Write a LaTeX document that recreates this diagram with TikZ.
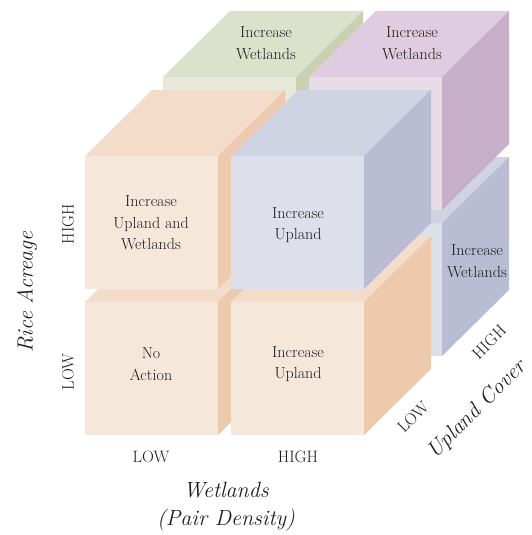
\documentclass[tikz,border=0pt]{standalone}
\usepackage{tikz}

\definecolor{textgray}{HTML}{1E1E1E}
\definecolor{peachfront}{HTML}{F6E7DB}
\definecolor{peachtop}{HTML}{F3DDCA}
\definecolor{peachside}{HTML}{EDCAAE}
\definecolor{bluefront}{HTML}{DDE0EA}
\definecolor{bluetop}{HTML}{D0D3E1}
\definecolor{blueside}{HTML}{B9BCD3}
\definecolor{greenfront}{HTML}{E7EADB}
\definecolor{greentop}{HTML}{DCE1CB}
\definecolor{greenside}{HTML}{C8D2B1}
\definecolor{plumfront}{HTML}{E8DBE8}
\definecolor{plumtop}{HTML}{DFCCE0}
\definecolor{plumside}{HTML}{C7AFCA}

% cub: cantonada superior esquerra de la cara frontal, color
\newcommand{\drawcube}[3]{%
  \fill[#3front] (#1,#2) rectangle ++(133,133);
  \fill[#3top] (#1,#2) -- ++(67,-66) -- ++(133,0) -- ++(-67,66) -- cycle;
  \fill[#3side] (#1,#2) ++(133,0) -- ++(67,-66) -- ++(0,133) -- ++(-67,66) -- cycle;
}

\begin{document}
\begin{tikzpicture}[x=1pt,y=-1pt,
  cubetext/.style={align=center,text=textgray,font=\fontsize{16}{21.5}\selectfont},
  levellabel/.style={text=textgray,inner sep=1pt,font=\fontsize{16.5}{18}\selectfont},
  axistitle/.style={align=center,text=textgray,inner sep=1pt,font=\fontsize{22}{28}\selectfont\itshape}]
  \useasboundingbox (0,0) rectangle (531,535);
  % Capa del fons (Upland alt)
  \drawcube{163}{223}{peach}
  \drawcube{309}{223}{blue}
  \drawcube{163}{77}{green}
  \drawcube{309}{77}{plum}
  % Capa del davant (Upland baix)
  \drawcube{85}{302}{peach}
  \drawcube{231}{302}{peach}
  \drawcube{85}{156}{peach}
  \drawcube{231}{156}{blue}
  % Textos dels cubs
  \node[cubetext] (noaction) at (151,364) {No\\Action};
  \node[cubetext] (uplandlow) at (298,364) {Increase\\Upland};
  \node[cubetext] (both) at (151,223) {Increase\\Upland and\\Wetlands};
  \node[cubetext] (uplandhigh) at (298,225) {Increase\\Upland};
  \node[cubetext] (wetgreen) at (266,43) {Increase\\Wetlands};
  \node[cubetext] (wetplum) at (412,43) {Increase\\Wetlands};
  \node[cubetext] (wetblue) at (477,261) {Increase\\Wetlands};
  % Eixos
  \node[levellabel] (wlow) at (151,457) {LOW};
  \node[levellabel] (whigh) at (298,457) {HIGH};
  \node[axistitle] (wtitle) at (226,507) {Wetlands\\(Pair Density)};
  \node[levellabel,rotate=90] (rhigh) at (68,224) {HIGH};
  \node[levellabel,rotate=90] (rlow) at (68,372) {LOW};
  \node[axistitle,rotate=90] (rtitle) at (27,292) {Rice Acreage};
  \node[levellabel,rotate=45] (ulow) at (413,417) {LOW};
  \node[levellabel,rotate=45] (uhigh) at (489,342) {HIGH};
  \node[axistitle,rotate=45] (utitle) at (477,410) {Upland Cover};
\end{tikzpicture}
\end{document}
